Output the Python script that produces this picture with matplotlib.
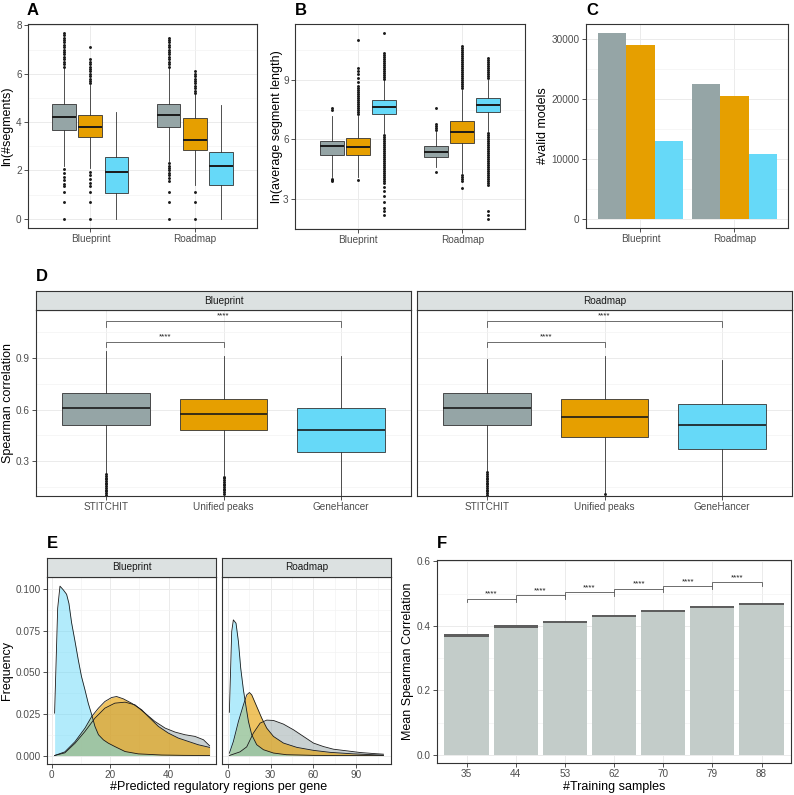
import matplotlib
matplotlib.use('Agg')
import matplotlib.pyplot as plt
from matplotlib.ticker import NullLocator, FixedLocator

plt.rcParams['font.family'] = ['Liberation Sans', 'DejaVu Sans']

# ---------------- data ----------------
datasets = ['Blueprint', 'Roadmap']
methods = ['STITCHIT', 'Unified peaks', 'GeneHancer']

# Panel A: ln(#segments)   [dataset][method]
a_q1 = [[3.68, 3.38, 1.08], [3.79, 2.83, 1.39]]
a_med = [[4.22, 3.79, 1.92], [4.29, 3.28, 2.19]]
a_q3 = [[4.73, 4.29, 2.55], [4.77, 4.17, 2.76]]
a_wlo = [[2.2, 2.1, 0.0], [2.4, 1.4, 0.0]]
a_whi = [[6.25, 5.55, 4.4], [6.25, 5.15, 4.7]]
a_fliers = [
    [[6.3, 6.4, 6.5, 6.6, 6.7, 6.8, 6.9, 7.0, 7.1, 7.2, 7.3, 7.4, 7.5, 7.6, 7.7,
      2.05, 1.9, 1.75, 1.6, 1.45, 1.35, 1.1, 0.7, 0.0],
     [5.6, 5.7, 5.8, 5.9, 6.0, 6.1, 6.2, 6.3, 6.4, 6.5, 6.6, 7.1,
      1.95, 1.8, 1.65, 1.5, 1.35, 1.1, 0.7, 0.0],
     []],
    [[6.3, 6.4, 6.5, 6.6, 6.7, 6.8, 6.9, 7.0, 7.1, 7.2, 7.3, 7.4, 7.5,
      2.3, 2.2, 2.1, 2.0, 1.9, 1.8, 1.7, 1.55, 1.1, 0.7, 0.0],
     [5.2, 5.3, 5.4, 5.5, 5.6, 5.7, 5.8, 5.9, 6.0, 6.1, 1.1, 0.7, 0.0],
     []],
]

# Panel B: ln(average segment length)
b_q1 = [[5.22, 5.22, 7.30], [5.10, 5.81, 7.38]]
b_med = [[5.66, 5.61, 7.63], [5.37, 6.35, 7.74]]
b_q3 = [[5.93, 6.05, 8.00], [5.64, 6.93, 8.06]]
b_wlo = [[4.1, 4.1, 6.3], [4.6, 4.3, 6.4]]
b_whi = [[7.2, 7.2, 9.0], [6.35, 8.5, 9.0]]
b_fliers = [
    [[7.5, 7.6, 4.0, 3.95, 3.9],
     [7.3, 7.4, 7.5, 7.6, 7.7, 7.8, 7.9, 8.0, 8.1, 8.2, 8.3, 8.4, 8.5, 8.6, 8.7,
      8.9, 9.1, 9.3, 9.45, 9.6, 11.0, 3.95],
     [9.05, 9.15, 9.25, 9.35, 9.45, 9.55, 9.65, 9.75, 9.85, 9.95, 10.05, 10.15, 10.25, 10.35, 11.35,
      6.2, 6.1, 6.0, 5.9, 5.8, 5.7, 5.6, 5.5, 5.4, 5.3, 5.2, 5.1, 5.0, 4.9, 4.8, 4.7, 4.6,
      4.5, 4.4, 4.3, 4.2, 4.1, 4.0, 3.9, 3.8, 3.6, 3.4, 3.15, 2.85, 2.55, 2.4, 2.2]],
    [[6.45, 6.55, 6.65, 6.75, 7.6, 4.35],
     [8.6, 8.7, 8.8, 8.9, 9.0, 9.1, 9.2, 9.3, 9.4, 9.5, 9.6, 9.7, 9.8, 9.9, 10.0,
      10.1, 10.2, 10.3, 10.4, 10.5, 10.6, 10.7, 4.2, 4.1, 4.0, 3.9, 3.55],
     [9.1, 9.2, 9.3, 9.4, 9.5, 9.6, 9.7, 9.8, 9.9, 10.0, 10.1,
      6.3, 6.2, 6.1, 6.0, 5.9, 5.8, 5.7, 5.6, 5.5, 5.4, 5.3, 5.2, 5.1, 5.0, 4.9, 4.8,
      4.7, 4.6, 4.5, 4.4, 4.3, 4.2, 4.1, 4.0, 3.9, 3.8, 3.7, 2.4, 2.2, 1.95]],
]

# Panel C: #valid models
c_counts = [[31000, 29000, 13000], [22500, 20500, 10800]]

# Panel D: Spearman correlation
d_q1 = [[0.509, 0.480, 0.354], [0.509, 0.441, 0.372]]
d_med = [[0.608, 0.577, 0.484], [0.608, 0.556, 0.509]]
d_q3 = [[0.697, 0.662, 0.608], [0.695, 0.662, 0.633]]
d_wlo = [[0.23, 0.22, 0.10], [0.24, 0.115, 0.10]]
d_whi = [[0.939, 0.914, 0.914], [0.896, 0.910, 0.890]]
d_fliers = [
    [[0.225, 0.215, 0.205, 0.195, 0.185, 0.175, 0.165, 0.155, 0.145, 0.135, 0.125, 0.115, 0.105],
     [0.21, 0.20, 0.19, 0.18, 0.17, 0.16, 0.15, 0.14, 0.13, 0.12, 0.11],
     []],
    [[0.235, 0.225, 0.215, 0.205, 0.195, 0.185, 0.175, 0.165, 0.155, 0.145, 0.135, 0.125, 0.115, 0.105],
     [0.108],
     []],
]
d_pairs = [(0, 1, 0.995, '****'), (0, 2, 1.116, '****')]

# Panel E: density of #predicted regulatory regions per gene
e_bp_x = {
    'STITCHIT': [1, 4.5, 8.0, 11.4, 14.8, 18.2, 21.6, 25.1, 28.5, 31.9, 35.3, 38.8, 42.2, 45.6, 49.0, 51.9, 54],
    'Unified peaks': [1, 4.5, 8.0, 11.4, 13.7, 16.0, 18.2, 20.5, 22.2, 24.5, 27.3, 30.8, 33.0, 36.5, 39.9, 43.3, 46.7, 50.1, 54],
    'GeneHancer': [1, 2.05, 2.84, 4.0, 5.1, 5.9, 6.8, 8.0, 9.1, 10.2, 11.4, 12.5, 13.7, 14.8, 16.0, 17.7, 19.4, 21.6, 25.1, 29.6, 37.6, 45, 54],
}
e_bp_y = {
    'STITCHIT': [0.0, 0.0016, 0.0074, 0.0145, 0.0225, 0.0285, 0.0315, 0.0321, 0.0305, 0.0255, 0.0205, 0.0165, 0.0141, 0.0125, 0.0115, 0.0095, 0.0059],
    'Unified peaks': [0.0, 0.0022, 0.0084, 0.0165, 0.0235, 0.0285, 0.0325, 0.0349, 0.0355, 0.0341, 0.0315, 0.0275, 0.0235, 0.0175, 0.0135, 0.0105, 0.0085, 0.0065, 0.0049],
    'GeneHancer': [0.0255, 0.0886, 0.1019, 0.0996, 0.097, 0.0915, 0.080, 0.0685, 0.0575, 0.0475, 0.0394, 0.0315, 0.0245, 0.0175, 0.0125, 0.0094, 0.0074, 0.0054, 0.0024, 0.0010, 0.0003, 0.0001, 0.0],
}
e_rm_x = {
    'STITCHIT': [1.15, 8.6, 13.3, 17.9, 22.7, 27.3, 32, 39, 46, 53, 60, 67, 74, 83.5, 92.8, 102, 109],
    'Unified peaks': [1.15, 3.95, 7.5, 11.0, 13.3, 15.2, 16.8, 20.3, 23.8, 27.3, 32, 39, 48.4, 60.1, 71.8, 88, 109],
    'GeneHancer': [1.15, 2.8, 3.95, 5.8, 7.5, 9.1, 11.0, 12.8, 14.5, 16.8, 20.3, 25.0, 32, 41, 60, 85, 109],
}
e_rm_y = {
    'STITCHIT': [0.0, 0.0022, 0.0052, 0.0134, 0.0195, 0.0213, 0.0211, 0.0189, 0.0155, 0.0115, 0.0075, 0.0054, 0.0038, 0.0028, 0.0018, 0.0012, 0.0008],
    'Unified peaks': [0.0014, 0.0084, 0.0205, 0.0305, 0.0365, 0.0379, 0.0365, 0.0295, 0.0225, 0.0165, 0.0115, 0.0075, 0.0049, 0.0031, 0.0019, 0.0010, 0.0002],
    'GeneHancer': [0.026, 0.0746, 0.0816, 0.0796, 0.0685, 0.0525, 0.0394, 0.0295, 0.0205, 0.0125, 0.0065, 0.0035, 0.0015, 0.0005, 0.0001, 0.0, 0.0],
}

# Panel F: mean Spearman correlation vs #training samples
f_samples = ['35', '44', '53', '62', '70', '79', '88']
f_mean = [0.370, 0.398, 0.413, 0.430, 0.445, 0.457, 0.467]
f_se = [0.004, 0.0035, 0.003, 0.003, 0.003, 0.003, 0.003]
f_bracket_y = [0.484, 0.495, 0.505, 0.515, 0.524, 0.535]
f_labels = ['****'] * 6

# ---------------- style ----------------
COLORS = {'STITCHIT': '#95A5A6', 'Unified peaks': '#E69F00', 'GeneHancer': '#66D9F8'}
E_ALPHA = {'STITCHIT': 0.5, 'Unified peaks': 0.62, 'GeneHancer': 0.5}
EDGE = '#333333'
GRID = '#EBEBEB'
GRID_MINOR = '#F3F3F3'
TICKCOL = '#4D4D4D'
FS_TICK = 7.2
FS_TITLE = 9

W, H = 794, 795
fig = plt.figure(figsize=(W / 100, H / 100), dpi=100)


def rect(x0, y0, x1, y1):
    return [x0 / W, 1 - y1 / H, (x1 - x0) / W, (y1 - y0) / H]


def style(ax, ymajor=None, yminor=None, xmajor=None, xminor=None):
    ax.set_facecolor('white')
    for s in ax.spines.values():
        s.set_color(EDGE)
        s.set_linewidth(0.8)
    if ymajor is not None:
        ax.yaxis.set_major_locator(FixedLocator(ymajor))
    if yminor is not None:
        ax.yaxis.set_minor_locator(FixedLocator(yminor))
    else:
        ax.yaxis.set_minor_locator(NullLocator())
    if xmajor is not None:
        ax.xaxis.set_major_locator(FixedLocator(xmajor))
    if xminor is not None:
        ax.xaxis.set_minor_locator(FixedLocator(xminor))
    else:
        ax.xaxis.set_minor_locator(NullLocator())
    ax.grid(True, which='major', color=GRID, lw=0.7)
    ax.grid(True, which='minor', color=GRID_MINOR, lw=0.5)
    ax.set_axisbelow(True)
    ax.tick_params(which='major', length=3, width=0.6, color=EDGE,
                   labelsize=FS_TICK, labelcolor=TICKCOL, pad=1.5)
    ax.tick_params(which='minor', length=0)


def boxes(ax, positions, width, q1, med, q3, wlo, whi, fl, cols, med_lw=1.4):
    stats = []
    for i in range(len(positions)):
        stats.append(dict(q1=q1[i], med=med[i], q3=q3[i], whislo=wlo[i],
                          whishi=whi[i], fliers=fl[i]))
    res = ax.bxp(stats, positions=positions, widths=width, patch_artist=True,
                 showcaps=False, manage_ticks=False,
                 boxprops=dict(edgecolor=EDGE, linewidth=0.6),
                 medianprops=dict(color='#1A1A1A', linewidth=med_lw, solid_capstyle='butt'),
                 whiskerprops=dict(color=EDGE, linewidth=0.6),
                 flierprops=dict(marker='o', markersize=2.1, markerfacecolor='#1A1A1A',
                                 markeredgecolor='none', linestyle='none'))
    for b, c in zip(res['boxes'], cols):
        b.set_facecolor(c)


def letter(x, y, s):
    fig.text(x / W, 1 - y / H, s, fontsize=12, fontweight='bold', ha='left', va='baseline')


def ylab(xc, ax_top, ax_bot, s):
    fig.text(xc / W, 1 - (ax_top + ax_bot) / 2 / H, s, rotation=90, ha='center',
             va='center', fontsize=FS_TITLE, color='black')


def strip(x0, y0, x1, y1, text):
    sa = fig.add_axes(rect(x0, y0, x1, y1))
    sa.set_facecolor('#DCE1E1')
    sa.set_xticks([])
    sa.set_yticks([])
    for s in sa.spines.values():
        s.set_color(EDGE)
        s.set_linewidth(0.8)
    sa.text(0.5, 0.5, text, transform=sa.transAxes, ha='center', va='center',
            fontsize=FS_TICK, color='#1A1A1A')


def bracket(ax, x1, x2, y, tip, label, fs=5.8):
    ax.plot([x1, x1, x2, x2], [y - tip, y, y, y - tip], color='#555555', lw=0.6,
            solid_joinstyle='miter', clip_on=False)
    ax.text((x1 + x2) / 2, y + tip * 0.25, label, ha='center', va='bottom',
            fontsize=fs, color='#1A1A1A')


offsets = [-0.25, 0.0, 0.25]
mcols = [COLORS[m] for m in methods]

# ---------------- Panel A ----------------
axA = fig.add_axes(rect(28, 24, 257, 228))
style(axA, ymajor=[0, 2, 4, 6, 8], yminor=[1, 3, 5, 7], xmajor=[1, 2])
posA, q1A, medA, q3A, wloA, whiA, flA, colA = [], [], [], [], [], [], [], []
for gi in range(2):
    for mi in range(3):
        posA.append(gi + 1 + offsets[mi])
        q1A.append(a_q1[gi][mi]); medA.append(a_med[gi][mi]); q3A.append(a_q3[gi][mi])
        wloA.append(a_wlo[gi][mi]); whiA.append(a_whi[gi][mi]); flA.append(a_fliers[gi][mi])
        colA.append(mcols[mi])
boxes(axA, posA, 0.23, q1A, medA, q3A, wloA, whiA, flA, colA)
axA.set_xlim(0.4, 2.6)
axA.set_ylim(-0.38, 8.06)
axA.set_xticklabels(datasets)
ylab(7.5, 24, 228, 'ln(#segments)')
letter(27, 15, 'A')

# ---------------- Panel B ----------------
axB = fig.add_axes(rect(295, 24, 525, 229))
style(axB, ymajor=[3, 6, 9], yminor=[1.5, 4.5, 7.5, 10.5], xmajor=[1, 2])
posB, q1B, medB, q3B, wloB, whiB, flB, colB = [], [], [], [], [], [], [], []
for gi in range(2):
    for mi in range(3):
        posB.append(gi + 1 + offsets[mi])
        q1B.append(b_q1[gi][mi]); medB.append(b_med[gi][mi]); q3B.append(b_q3[gi][mi])
        wloB.append(b_wlo[gi][mi]); whiB.append(b_whi[gi][mi]); flB.append(b_fliers[gi][mi])
        colB.append(mcols[mi])
boxes(axB, posB, 0.23, q1B, medB, q3B, wloB, whiB, flB, colB)
axB.set_xlim(0.4, 2.6)
axB.set_ylim(1.47, 11.82)
axB.set_xticklabels(datasets)
ylab(277, 24, 229, 'ln(average segment length)')
letter(295, 15, 'B')

# ---------------- Panel C ----------------
axC = fig.add_axes(rect(586, 24, 788, 228))
style(axC, ymajor=[0, 10000, 20000, 30000], yminor=[5000, 15000, 25000], xmajor=[1, 2])
for gi in range(2):
    for mi in range(3):
        axC.bar(gi + 1 + (mi - 1) * 0.3, c_counts[gi][mi], width=0.3,
                color=mcols[mi], linewidth=0)
axC.set_xlim(0.42, 2.57)
axC.set_ylim(-1550, 32550)
axC.set_xticklabels(datasets)
ylab(543, 24, 228, '#valid models')
letter(586, 15, 'C')

# ---------------- Panel D ----------------
d_rects = [(36, 411), (417, 792)]
for gi in range(2):
    x0, x1 = d_rects[gi]
    ax = fig.add_axes(rect(x0, 310, x1, 496))
    style(ax, ymajor=[0.3, 0.6, 0.9], yminor=[0.15, 0.45, 0.75, 1.05], xmajor=[1, 2, 3])
    boxes(ax, [1, 2, 3], 0.75, d_q1[gi], d_med[gi], d_q3[gi], d_wlo[gi], d_whi[gi],
          d_fliers[gi], mcols, med_lw=1.2)
    for (i, j, y, lab) in d_pairs:
        bracket(ax, i + 1, j + 1, y, 0.032, lab)
    ax.set_xlim(0.4, 3.6)
    ax.set_ylim(0.098, 1.18)
    ax.set_xticklabels(methods)
    if gi != 0:
        ax.tick_params(axis='y', which='both', left=False, labelleft=False)
    strip(x0, 291, x1, 310, datasets[gi])
ylab(8, 310, 496, 'Spearman correlation')
letter(36, 281, 'D')

# ---------------- Panel E ----------------
e_rects = [(47, 216), (222, 391)]
e_x = [e_bp_x, e_rm_x]
e_y = [e_bp_y, e_rm_y]
e_xlim = [(-1.6, 56.2), (-4.0, 114.3)]
e_xmaj = [[0, 20, 40], [0, 30, 60, 90]]
e_xmin = [[10, 30, 50], [15, 45, 75, 105]]
for gi in range(2):
    x0, x1 = e_rects[gi]
    ax = fig.add_axes(rect(x0, 577, x1, 764))
    style(ax, ymajor=[0.0, 0.025, 0.05, 0.075, 0.1],
          yminor=[0.0125, 0.0375, 0.0625, 0.0875], xmajor=e_xmaj[gi], xminor=e_xmin[gi])
    for m in methods:
        xs, ys = e_x[gi][m], e_y[gi][m]
        ax.fill_between(xs, 0, ys, color=COLORS[m], alpha=E_ALPHA[m], linewidth=0)
        ax.plot(xs, ys, color='#1A1A1A', lw=0.6)
    ax.set_xlim(*e_xlim[gi])
    ax.set_ylim(-0.0051, 0.1074)
    if gi == 0:
        ax.set_yticklabels(['0.000', '0.025', '0.050', '0.075', '0.100'])
    else:
        ax.tick_params(axis='y', which='both', left=False, labelleft=False)
    strip(x0, 558, x1, 577, datasets[gi])
ylab(7.5, 577, 764, 'Frequency')
fig.text(219 / W, 1 - 787 / H, '#Predicted regulatory regions per gene', ha='center',
         va='center', fontsize=FS_TITLE)
letter(47, 548, 'E')

# ---------------- Panel F ----------------
axF = fig.add_axes(rect(437, 560, 791, 763))
style(axF, ymajor=[0.0, 0.2, 0.4, 0.6], yminor=[0.1, 0.3, 0.5], xmajor=list(range(1, 8)))
fx = list(range(1, len(f_samples) + 1))
axF.bar(fx, f_mean, width=0.9, color='#C3CCC9', linewidth=0)
axF.bar(fx, [2 * s for s in f_se], bottom=[m - s for m, s in zip(f_mean, f_se)],
        width=0.9, color='#5E5E5E', linewidth=0)
for k in range(len(f_bracket_y)):
    bracket(axF, fx[k], fx[k + 1], f_bracket_y[k], 0.011, f_labels[k])
axF.set_xlim(0.4, 7.6)
axF.set_ylim(-0.025, 0.604)
axF.set_xticklabels(f_samples)
axF.set_yticklabels(['0.0', '0.2', '0.4', '0.6'])
ylab(408, 560, 763, 'Mean Spearman Correlation')
fig.text(614 / W, 1 - 787 / H, '#Training samples', ha='center', va='center', fontsize=FS_TITLE)
letter(437, 548, 'F')

fig.savefig('out.png', dpi=100, facecolor='white')
